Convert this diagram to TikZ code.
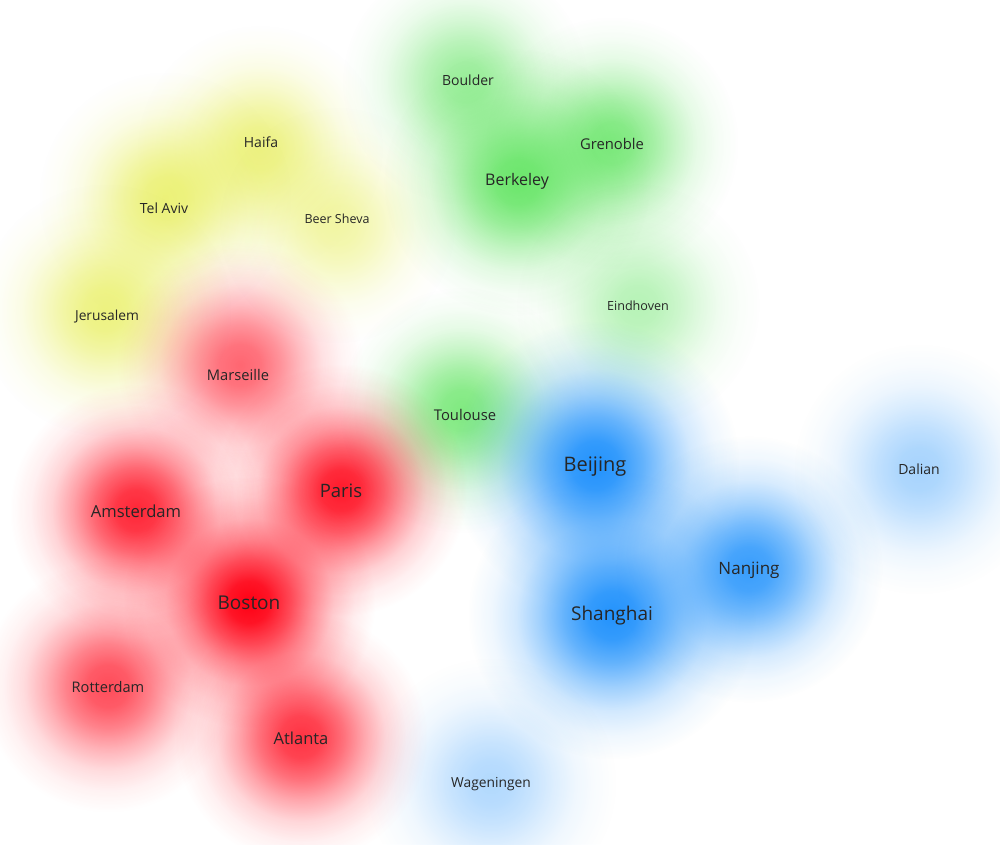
\documentclass[tikz,border=0pt]{standalone}
\usepackage{fontspec}
\setmainfont{Open Sans}
\usepackage{tikz}
\usetikzlibrary{fadings}

\definecolor{clred}{RGB}{255,0,20}
\definecolor{clblue}{RGB}{35,147,252}
\definecolor{clgreen}{RGB}{75,225,75}
\definecolor{clyellow}{RGB}{228,236,60}

\pgfdeclareradialshading{densityshade}{\pgfpointorigin}{color(0bp)=(pgftransparent!0); color(3bp)=(pgftransparent!8); color(6bp)=(pgftransparent!30); color(9bp)=(pgftransparent!57); color(12bp)=(pgftransparent!80); color(15bp)=(pgftransparent!93); color(18bp)=(pgftransparent!100); color(50bp)=(pgftransparent!100)}
\pgfdeclarefading{density}{\pgfuseshading{densityshade}}

\tikzset{
  blob/.style={path fading=density},
  city/.style={text=black!85,inner sep=0pt,font=\fontsize{#1}{#1}\selectfont}
}

\begin{document}
\begin{tikzpicture}[x=1pt,y=-1pt]
          \fill[white] (0,0) rectangle (1000,844);
          \useasboundingbox (0,0) rectangle (1000,844);
          % yellow cluster
          \fill[clyellow,blob,opacity=0.62] (260,148) circle (170);
          \fill[clyellow,blob,opacity=0.68] (165,198) circle (175);
          \fill[clyellow,blob,opacity=0.45] (337,225) circle (165);
          \fill[clyellow,blob,opacity=0.65] (105,310) circle (175);
          % green cluster
          \fill[clgreen,blob,opacity=0.55] (465,82) circle (170);
          \fill[clgreen,blob,opacity=0.7] (612,143) circle (175);
          \fill[clgreen,blob,opacity=0.8] (517,182) circle (185);
          \fill[clgreen,blob,opacity=0.4] (638,305) circle (170);
          \fill[clgreen,blob,opacity=0.7] (462,410) circle (170);
          % red cluster
          \fill[clred,blob,opacity=0.6] (240,365) circle (170);
          \fill[clred,blob,opacity=0.9] (341,490) circle (175);
          \fill[clred,blob,opacity=0.85] (136,510) circle (175);
          \fill[clred,blob,opacity=1] (249,602) circle (175);
          \fill[clred,blob,opacity=0.7] (108,686) circle (175);
          \fill[clred,blob,opacity=0.8] (301,737) circle (175);
          % blue cluster
          \fill[clblue,blob,opacity=1] (595,465) circle (200);
          \fill[clblue,blob,opacity=1] (612,615) circle (200);
          \fill[clblue,blob,opacity=0.9] (749,569) circle (185);
          \fill[clblue,blob,opacity=0.4] (919,469) circle (175);
          \fill[clblue,blob,opacity=0.35] (491,783) circle (175);
          % labels
          \node[city=14] (haifa) at (261,142) {Haifa};
          \node[city=14] (telaviv) at (164,208) {Tel Aviv};
          \node[city=12.5] (beersheva) at (337,219) {Beer Sheva};
          \node[city=13.8] (jerusalem) at (107,317) {Jerusalem};
          \node[city=14] (boulder) at (468,80) {Boulder};
          \node[city=14.8] (grenoble) at (612,144) {Grenoble};
          \node[city=16] (berkeley) at (517,181) {Berkeley};
          \node[city=12.6] (eindhoven) at (638,306) {Eindhoven};
          \node[city=14.8] (toulouse) at (465,415) {Toulouse};
          \node[city=14.7] (marseille) at (238,375) {Marseille};
          \node[city=18.5] (paris) at (341,491) {Paris};
          \node[city=16.6] (amsterdam) at (136,511) {Amsterdam};
          \node[city=19] (boston) at (249,603) {Boston};
          \node[city=14.6] (rotterdam) at (108,687) {Rotterdam};
          \node[city=16.5] (atlanta) at (301,738) {Atlanta};
          \node[city=20] (beijing) at (595,467) {Beijing};
          \node[city=19] (shanghai) at (612,616) {Shanghai};
          \node[city=17] (nanjing) at (749,570) {Nanjing};
          \node[city=14] (dalian) at (919,469) {Dalian};
          \node[city=13.8] (wageningen) at (491,784) {Wageningen};
        \end{tikzpicture}
\end{document}
